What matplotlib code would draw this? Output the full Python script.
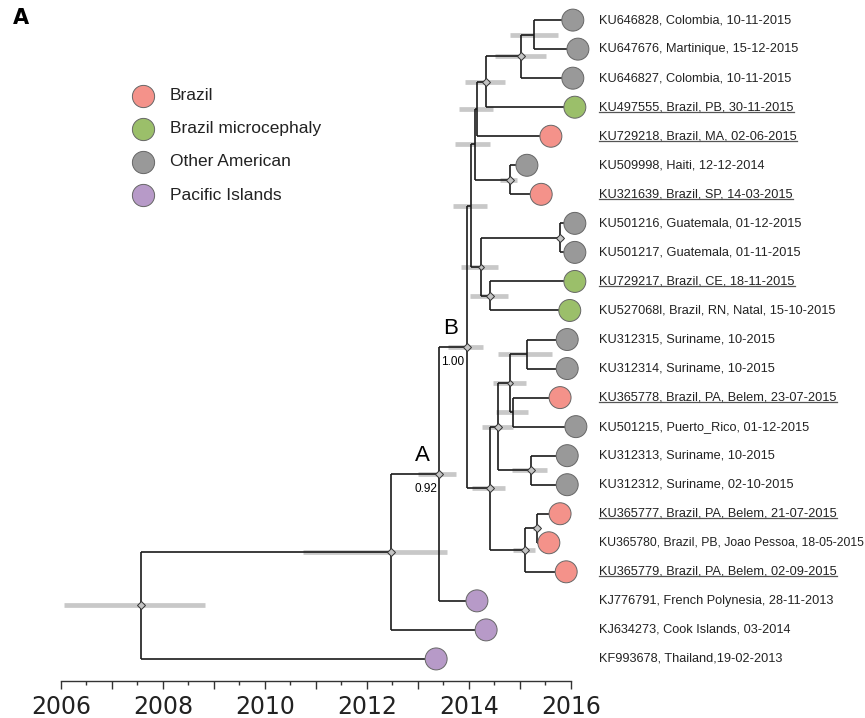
import numpy as np
import matplotlib.pyplot as plt
from matplotlib.lines import Line2D
from matplotlib.transforms import offset_copy

plt.rcParams['font.family'] = ['Liberation Sans', 'DejaVu Sans']

# leaves, top to bottom
labels = [
    'KU646828, Colombia, 10-11-2015',
    'KU647676, Martinique, 15-12-2015',
    'KU646827, Colombia, 10-11-2015',
    'KU497555, Brazil, PB, 30-11-2015',
    'KU729218, Brazil, MA, 02-06-2015',
    'KU509998, Haiti, 12-12-2014',
    'KU321639, Brazil, SP, 14-03-2015',
    'KU501216, Guatemala, 01-12-2015',
    'KU501217, Guatemala, 01-11-2015',
    'KU729217, Brazil, CE, 18-11-2015',
    'KU527068l, Brazil, RN, Natal, 15-10-2015',
    'KU312315, Suriname, 10-2015',
    'KU312314, Suriname, 10-2015',
    'KU365778, Brazil, PA, Belem, 23-07-2015',
    'KU501215, Puerto_Rico, 01-12-2015',
    'KU312313, Suriname, 10-2015',
    'KU312312, Suriname, 02-10-2015',
    'KU365777, Brazil, PA, Belem, 21-07-2015',
    'KU365780, Brazil, PB, Joao Pessoa, 18-05-2015',
    'KU365779, Brazil, PA, Belem, 02-09-2015',
    'KJ776791, French Polynesia, 28-11-2013',
    'KJ634273, Cook Islands, 03-2014',
    'KF993678, Thailand,19-02-2013',
]
groups = [2, 2, 2, 1, 0, 2, 0, 2, 2, 1, 1, 2, 2, 0, 2, 2, 2, 0, 0, 0, 3, 3, 3]
tip_year = [2015.82, 2015.92, 2015.82, 2015.86, 2015.39, 2014.92, 2015.20,
            2015.86, 2015.86, 2015.86, 2015.76, 2015.71, 2015.71, 2015.57,
            2015.88, 2015.71, 2015.71, 2015.57, 2015.35, 2015.69, 2013.94,
            2014.12, 2013.14]
underlined = [0, 0, 0, 1, 1, 0, 1, 0, 0, 1, 0, 0, 0, 1, 0, 0, 0, 1, 0, 1, 0, 0, 0]

group_names = ['Brazil', 'Brazil microcephaly', 'Other American', 'Pacific Islands']
group_colors = ['#f4928a', '#9bbf6a', '#999999', '#b79ac8']

# internal nodes, children first; ints are leaf rows, strings are node names
node_names = ['n12', 'n123', 'n1234', 'n12345', 'n67', 'ntop', 'n89', 'n1011',
              'nG', 'nC', 'n1213', 'n1415', 'nQ', 'n1617', 'nS', 'n1819', 'nR',
              'nP', 'nB', 'nA', 'nAP', 'root']
node_children = [(0, 1), ('n12', 2), ('n123', 3), ('n1234', 4), (5, 6),
                 ('n12345', 'n67'), (7, 8), (9, 10), ('n89', 'n1011'),
                 ('ntop', 'nG'), (11, 12), (13, 14), ('n1213', 'n1415'),
                 (15, 16), ('nQ', 'n1617'), (17, 18), ('n1819', 19),
                 ('nS', 'nR'), ('nC', 'nP'), ('nB', 20), ('nA', 21), ('nAP', 22)]
node_year = [2015.27, 2015.02, 2014.33, 2014.16, 2014.80, 2014.12, 2015.78,
             2014.41, 2014.24, 2014.04, 2015.14, 2014.86, 2014.80, 2015.22,
             2014.57, 2015.33, 2015.10, 2014.41, 2013.96, 2013.41, 2012.47,
             2007.57]
hpd_lo = [2014.80, 2014.51, 2013.92, 2013.80, 2014.61, 2013.73, 2015.72,
          2014.02, 2013.84, 2013.69, 2014.57, 2014.53, 2014.47, 2014.84,
          2014.25, 2015.26, 2014.86, 2014.06, 2013.59, 2013.00, 2010.75,
          2006.06]
hpd_hi = [2015.75, 2015.51, 2014.71, 2014.47, 2014.94, 2014.41, 2015.84,
          2014.76, 2014.57, 2014.35, 2015.63, 2015.16, 2015.12, 2015.53,
          2014.86, 2015.40, 2015.29, 2014.71, 2014.27, 2013.75, 2013.57,
          2008.82]
diamond = [0, 6, 6, 0, 5, 0, 5, 6, 4, 0, 0, 0, 4, 6, 6, 5, 6, 6, 6, 6, 6, 6]

fig = plt.figure(figsize=(8.65, 7.18), dpi=100)
ax = fig.add_axes([61 / 865, 37 / 718, 510 / 865, 676 / 718])
ax.set_xlim(2006, 2016)
ax.set_ylim(22.76, -0.52)

pos = {}
for i, t in enumerate(tip_year):
    pos[i] = (t, i)

line_kw = dict(color='#1a1a1a', lw=1.2, solid_capstyle='butt', zorder=3)
for name, ch, yr, lo, hi, d in zip(node_names, node_children, node_year,
                                   hpd_lo, hpd_hi, diamond):
    cy = [pos[c][1] for c in ch]
    y = np.mean(cy)
    pos[name] = (yr, y)
    ax.plot([lo, hi], [y, y], color='#c8c8c8', lw=3.4, solid_capstyle='butt',
            zorder=1)
    ax.plot([yr, yr], [min(cy), max(cy)], **line_kw)
    for c in ch:
        ax.plot([yr, pos[c][0]], [pos[c][1], pos[c][1]], **line_kw)
    if d:
        ax.plot(yr, y, marker='D', ms=d * 0.75, mfc='#c4c4c4', mec='#333333',
                mew=0.7, zorder=5)

# tip circles sit just right of the tip
shift = offset_copy(ax.transData, fig=fig, x=11 * 0.72, y=0, units='points')
ax.scatter(tip_year, range(len(tip_year)), s=250,
           c=[group_colors[g] for g in groups], edgecolors='#666666',
           linewidths=0.7, transform=shift, zorder=6, clip_on=False)

texts = []
for i, lab in enumerate(labels):
    t = ax.text(2016.55, i, lab, fontsize=9.2, color='#222222',
                va='center', ha='left', clip_on=False)
    texts.append(t)

# node labels
ax.text(pos['nA'][0] - 0.46, pos['nA'][1] - 0.45, 'A', fontsize=16)
ax.text(pos['nA'][0] - 0.48, pos['nA'][1] + 0.62, '0.92', fontsize=8.5)
ax.text(pos['nB'][0] - 0.46, pos['nB'][1] - 0.45, 'B', fontsize=16)
ax.text(pos['nB'][0] - 0.50, pos['nB'][1] + 0.62, '1.00', fontsize=8.5)

# legend
for k, (gn, gc) in enumerate(zip(group_names, group_colors)):
    yy = 1 - (96 + 33 * k) / 718
    fig.add_artist(Line2D([143 / 865], [yy], marker='o', ms=16,
                          mfc=gc, mec='#666666', mew=0.7, ls='none'))
    fig.text(170 / 865, yy, gn, fontsize=12.5, color='#222222', va='center')

fig.text(13 / 865, 1 - 18 / 718, 'A', fontsize=15, fontweight='bold',
         family='DejaVu Sans', va='center')

# axis
for s in ['top', 'right', 'left']:
    ax.spines[s].set_visible(False)
ax.spines['bottom'].set_color('#333333')
ax.spines['bottom'].set_linewidth(1.0)
ax.set_yticks([])
years = np.arange(2006, 2017)
ax.set_xticks(years)
ax.set_xticklabels([str(y) if y % 2 == 0 else '' for y in years],
                   fontsize=17, family='DejaVu Sans', color='#222222')
ax.set_xticks(np.arange(2006.5, 2016, 1.0), minor=True)
ax.tick_params(axis='x', which='major', length=6, width=1, color='#333333',
               pad=4)
ax.tick_params(axis='x', which='minor', length=3, width=1, color='#333333')

# shrink any label that would run off the right edge, then underline
fig.canvas.draw()
rend = fig.canvas.get_renderer()
W = fig.bbox.width
for t in texts:
    bb = t.get_window_extent(rend)
    if bb.x1 > W - 2:
        t.set_fontsize(t.get_fontsize() * (W - 2 - bb.x0) / bb.width)
fig.canvas.draw()
inv = fig.transFigure.inverted()
for t, u in zip(texts, underlined):
    if not u:
        continue
    bb = t.get_window_extent(rend)
    p0 = inv.transform((bb.x0, bb.y0 + 1.5))
    p1 = inv.transform((bb.x1, bb.y0 + 1.5))
    fig.add_artist(Line2D([p0[0], p1[0]], [p0[1], p1[1]], color='#555555',
                          lw=0.9))

fig.savefig('out.png', dpi=100)
